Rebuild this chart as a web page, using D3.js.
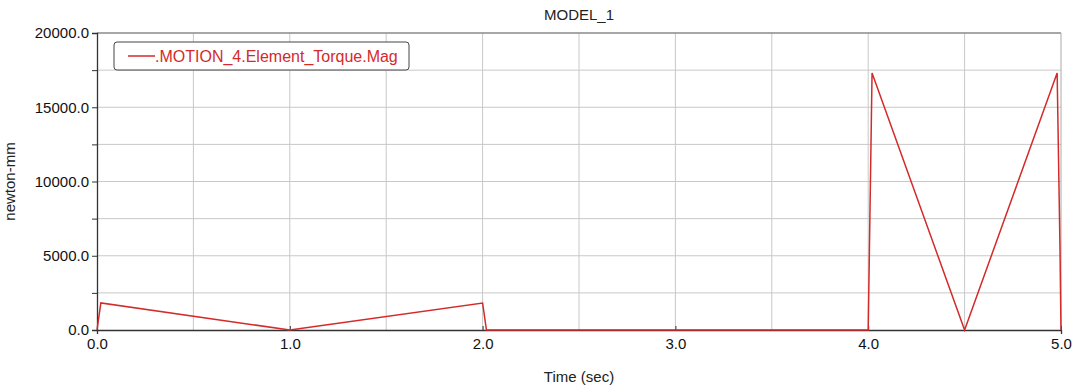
<!DOCTYPE html>
<html>
<head>
<meta charset="utf-8">
<script src="https://cdn.jsdelivr.net/npm/d3@7"></script>
<style>
  body { margin: 0; background: #fff; }
  svg text { font-family: "Liberation Sans", Arial, sans-serif; }
</style>
</head>
<body>
<svg id="chart" width="1080" height="388"></svg>
<script>
// torque curve (time in sec, torque in newton-mm)
const times  = [0.0, 0.02, 1.0, 2.0, 2.02, 4.0, 4.02, 4.5, 4.98, 4.995, 5.0];
const torque = [0, 1820, 0, 1820, 0, 0, 17300, 0, 17300, 5300, 0];

const xTicks = [0, 1, 2, 3, 4, 5];
const yTicks = [0, 5000, 10000, 15000, 20000];
const seriesName = ".MOTION_4.Element_Torque.Mag";

let svg = d3.select('#chart');
let margin = {left: 97, right: 19, top: 33, bottom: 58};
let W = 1080, H = 388;

let x = d3.scaleLinear().domain([0, 5]).range([margin.left, W - margin.right]);
let y = d3.scaleLinear().domain([0, 20000]).range([H - margin.bottom, margin.top]);

// grid every 0.5 s and 2500 N-mm
let g = svg.append('g');
g.selectAll('.vgrid')
  .data(d3.range(0.5, 5, 0.5))
  .join('line')
  .attr('x1', d => x(d)).attr('x2', d => x(d))
  .attr('y1', y(0)).attr('y2', y(20000))
  .attr('stroke', '#c8c8c8').attr('stroke-width', 1);
g.selectAll('.hgrid')
  .data(d3.range(2500, 20000, 2500))
  .join('line')
  .attr('x1', x(0)).attr('x2', x(5))
  .attr('y1', d => y(d)).attr('y2', d => y(d))
  .attr('stroke', '#c8c8c8').attr('stroke-width', 1);

// top/right frame
svg.append('line').attr('x1', x(0)).attr('x2', x(5)).attr('y1', y(20000)).attr('y2', y(20000))
  .attr('stroke', '#8a8a8a').attr('stroke-width', 1.5);
svg.append('line').attr('x1', x(5)).attr('x2', x(5)).attr('y1', y(20000)).attr('y2', y(0))
  .attr('stroke', '#aaaaaa').attr('stroke-width', 1);

// axes
let xAxis = d3.axisBottom(x).tickValues(xTicks).tickFormat(d3.format('.1f')).tickSize(4).tickPadding(4);
let yAxis = d3.axisLeft(y).tickValues(d3.range(0, 20001, 2500))
  .tickFormat(d => d % 5000 === 0 ? d3.format('.1f')(d) : '').tickSize(5).tickPadding(3);

let gx = svg.append('g').attr('transform', `translate(0,${y(0)})`).call(xAxis);
let gy = svg.append('g').attr('transform', `translate(${x(0)},0)`).call(yAxis);
[gx, gy].forEach(a => {
  a.select('.domain').attr('stroke', '#333').attr('stroke-width', 1.3);
  a.selectAll('.tick line').attr('stroke', '#333');
  a.selectAll('.tick text').style('font-size', '15px').attr('fill', '#111');
});
gx.selectAll('.tick line').attr('y2', -4);

// line
let data = times.map((t, i) => ({t: t, v: torque[i]}));
svg.append('path')
  .datum(data)
  .attr('fill', 'none')
  .attr('stroke', '#d42a2a')
  .attr('stroke-width', 1.5)
  .attr('d', d3.line().x(d => x(d.t)).y(d => y(d.v)));

// titles
svg.append('text').text('MODEL_1')
  .attr('x', (x(0) + x(5)) / 2).attr('y', 20)
  .attr('text-anchor', 'middle').style('font-size', '15px').attr('fill', '#222');
svg.append('text').text('Time (sec)')
  .attr('x', (x(0) + x(5)) / 2).attr('y', 382)
  .attr('text-anchor', 'middle').style('font-size', '15px').attr('fill', '#222');
svg.append('text').text('newton-mm')
  .attr('transform', `translate(15,${(y(0) + y(20000)) / 2}) rotate(-90)`)
  .attr('text-anchor', 'middle').style('font-size', '15px').attr('fill', '#222');

// legend
let leg = svg.append('g');
leg.append('rect').attr('x', 114).attr('y', 42).attr('width', 295).attr('height', 28)
  .attr('rx', 3).attr('fill', '#fff').attr('stroke', '#444').attr('stroke-width', 1);
leg.append('line').attr('x1', 128).attr('x2', 155).attr('y1', 56).attr('y2', 56)
  .attr('stroke', '#d42a2a').attr('stroke-width', 1.5);
leg.append('text').text(seriesName)
  .attr('x', 155).attr('y', 61.5)
  .style('font-size', '16px').attr('fill', '#d42a2a');
</script>
</body>
</html>
